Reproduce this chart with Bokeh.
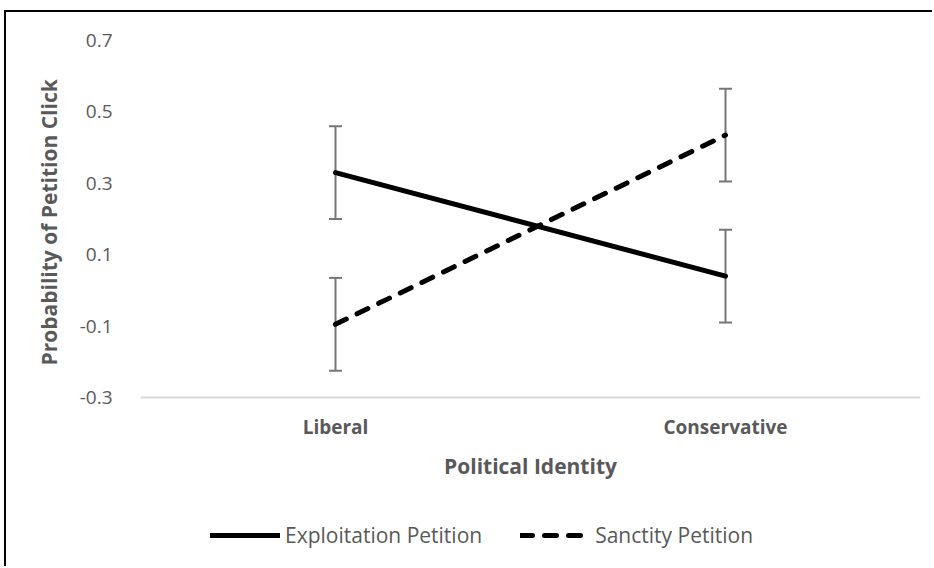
from bokeh.plotting import figure
from bokeh.models import ColumnDataSource, Whisker, TeeHead, Legend, LegendItem, FixedTicker, Range1d, Title
from bokeh.embed import file_html
from bokeh.resources import INLINE

# Interaction plot: probability of petition click by political identity
identities = ["Liberal", "Conservative"]
exploitation = [0.33, 0.04]
sanctity = [-0.095, 0.435]
exploitation_err = [0.13, 0.13]
sanctity_err = [0.13, 0.13]
y_ticks = [-0.3, -0.1, 0.1, 0.3, 0.5, 0.7]

FONT = "Open Sans"
GREY = "#595959"

# vertical geometry: value axis spans 357 px; the frame continues below it
# so that the axis labels and the legend sit inside the drawing area
AXIS_PX = 357
BELOW_PX = 171
y_lo, y_hi = y_ticks[0], y_ticks[-1]
y_start = y_lo - BELOW_PX * (y_hi - y_lo) / AXIS_PX

src_e = ColumnDataSource(dict(
    x=identities, y=exploitation,
    lo=[v - e for v, e in zip(exploitation, exploitation_err)],
    hi=[v + e for v, e in zip(exploitation, exploitation_err)],
))
src_s = ColumnDataSource(dict(
    x=identities, y=sanctity,
    lo=[v - e for v, e in zip(sanctity, sanctity_err)],
    hi=[v + e for v, e in zip(sanctity, sanctity_err)],
))

p = figure(
    x_range=identities, y_range=Range1d(y_start, y_hi),
    width=928, height=556,
    output_backend="svg", toolbar_location=None,
    min_border_left=134, min_border_right=14,
    min_border_top=28, min_border_bottom=0,
)
p.styles = {"margin-left": "6px", "margin-top": "12px",
            "box-shadow": "-2px -2px 0 0 #000000"}
p.outline_line_color = None
p.xgrid.grid_line_color = None
p.ygrid.grid_line_color = None
p.x_range.range_padding = 0

# error bars
for src in (src_e, src_s):
    w = Whisker(source=src, base="x", upper="hi", lower="lo",
                line_color="#767676", line_width=2,
                upper_head=TeeHead(size=13, line_color="#767676", line_width=2),
                lower_head=TeeHead(size=13, line_color="#767676", line_width=2))
    p.add_layout(w)

r_e = p.line("x", "y", source=src_e, line_color="black", line_width=5, line_cap="round")
r_s = p.line("x", "y", source=src_s, line_color="black", line_width=5,
             line_dash="12 12", line_cap="round")

# value axis
p.yaxis.ticker = FixedTicker(ticks=y_ticks)
p.yaxis.major_label_overrides = {-0.3: "-0.3", -0.1: "-0.1", 0.1: "0.1", 0.3: "0.3", 0.5: "0.5", 0.7: "0.7"}
p.yaxis.axis_line_color = None
p.yaxis.major_tick_line_color = None
p.yaxis.minor_tick_line_color = None
p.yaxis.major_label_text_font = FONT
p.yaxis.major_label_text_font_size = "19px"
p.yaxis.major_label_text_color = GREY
p.yaxis.major_label_standoff = 22

# value-axis title, lifted above the lower part of the frame
y_title = Title(text="Probability of Petition Click", align="left",
                offset=BELOW_PX + 32, standoff=27,
                text_font=FONT, text_font_style="bold",
                text_font_size="21px", text_color=GREY)
p.add_layout(y_title, "left")

# category axis sits at the bottom of the value span
p.xaxis.fixed_location = y_lo
p.xaxis.axis_line_color = "#d9d9d9"
p.xaxis.axis_line_width = 2
p.xaxis.major_tick_line_color = None
p.xaxis.minor_tick_line_color = None
p.xaxis.major_label_text_font = FONT
p.xaxis.major_label_text_font_style = "bold"
p.xaxis.major_label_text_font_size = "19px"
p.xaxis.major_label_text_color = GREY
p.xaxis.major_label_standoff = 10
p.xaxis.axis_label = "Political Identity"
p.xaxis.axis_label_text_font = FONT
p.xaxis.axis_label_text_font_style = "bold"
p.xaxis.axis_label_text_font_size = "21px"
p.xaxis.axis_label_text_color = GREY
p.xaxis.axis_label_standoff = 9

legend = Legend(
    items=[LegendItem(label="Exploitation Petition", renderers=[r_e]),
           LegendItem(label="Sanctity Petition", renderers=[r_s])],
    orientation="horizontal", location=(70, 19),
    glyph_width=70, glyph_height=20, spacing=38, label_standoff=5,
    label_text_font=FONT, label_text_font_size="21px", label_text_color=GREY,
    border_line_color=None, background_fill_alpha=0,
)
p.add_layout(legend)

open("out.html", "w").write(file_html(p, INLINE))
